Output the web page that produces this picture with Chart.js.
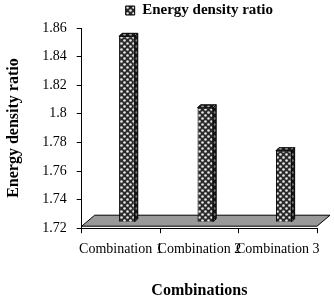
<!DOCTYPE html>
<html><head><meta charset="utf-8">
<script src="https://cdn.jsdelivr.net/npm/chart.js@4/dist/chart.umd.min.js"></script>
<style>html,body{margin:0;padding:0;background:#fff;}#wrap{width:334px;height:299px;}</style>
</head><body><div id="wrap"><canvas id="c" width="334" height="299"></canvas></div>
<script>
const categories = ['Combination 1', 'Combination 2', 'Combination 3'];
const energyDensityRatio = [1.85, 1.80, 1.77];
const yTickValues = [1.72, 1.74, 1.76, 1.78, 1.80, 1.82, 1.84, 1.86];
const seriesName = 'Energy density ratio';
const xTitle = 'Combinations';
const yTitle = 'Energy density ratio';

function makePattern() {
  const p = document.createElement('canvas');
  p.width = 6; p.height = 6;
  const g = p.getContext('2d');
  g.fillStyle = '#2a2a2a'; g.fillRect(0, 0, 6, 6);
  g.fillStyle = '#e8e8e8';
  g.beginPath(); g.arc(1.5, 1.5, 1.3, 0, Math.PI * 2); g.fill();
  g.beginPath(); g.arc(4.5, 4.5, 1.3, 0, Math.PI * 2); g.fill();
  return document.getElementById('c').getContext('2d').createPattern(p, 'repeat');
}
const pat = makePattern();
const SHIFT = 6, DEPTH = 3, FLOOR = 13;

const threeD = {
  id: 'threeD',
  beforeDatasetsDraw(chart) {
    const ctx = chart.ctx, a = chart.chartArea;
    ctx.save();
    ctx.beginPath();
    ctx.moveTo(a.left, a.bottom - 2);
    ctx.lineTo(a.right, a.bottom - 2);
    ctx.lineTo(a.right + FLOOR, a.bottom - FLOOR);
    ctx.lineTo(a.left + FLOOR, a.bottom - FLOOR);
    ctx.closePath();
    ctx.fillStyle = '#999999'; ctx.fill();
    ctx.strokeStyle = '#000'; ctx.lineWidth = 1; ctx.stroke();
    ctx.restore();
    ctx.save();
    ctx.translate(SHIFT, -SHIFT);
  },
  afterDatasetsDraw(chart) {
    const ctx = chart.ctx;
    const meta = chart.getDatasetMeta(0);
    meta.data.forEach(bar => {
      const p = bar.getProps(['x', 'y', 'base', 'width'], true);
      const l = p.x - p.width / 2, r = p.x + p.width / 2;
      ctx.beginPath();
      ctx.moveTo(r, p.y); ctx.lineTo(r + DEPTH, p.y - DEPTH);
      ctx.lineTo(r + DEPTH, p.base - DEPTH); ctx.lineTo(r, p.base); ctx.closePath();
      ctx.fillStyle = pat; ctx.fill();
      ctx.fillStyle = 'rgba(0,0,0,0.45)'; ctx.fill();
      ctx.strokeStyle = '#000'; ctx.lineWidth = 1; ctx.stroke();
      ctx.beginPath();
      ctx.moveTo(l, p.y); ctx.lineTo(r, p.y); ctx.lineTo(r + DEPTH, p.y - DEPTH);
      ctx.lineTo(l + DEPTH, p.y - DEPTH); ctx.closePath();
      ctx.fillStyle = pat; ctx.fill();
      ctx.fillStyle = 'rgba(0,0,0,0.3)'; ctx.fill();
      ctx.stroke();
    });
    ctx.restore();
  }
};

new Chart(document.getElementById('c'), {
  type: 'bar',
  data: {
    labels: categories,
    datasets: [{
      label: seriesName,
      data: energyDensityRatio,
      base: 1.72,
      backgroundColor: pat,
      borderColor: '#000',
      borderWidth: 1,
      barPercentage: 0.2,
      categoryPercentage: 1,
      clip: false
    }]
  },
  options: {
    responsive: false,
    animation: false,
    devicePixelRatio: 1,
    layout: { padding: { left: 0, right: 17, top: 0, bottom: 0 } },
    plugins: {
      legend: {
        position: 'top',
        fullSize: false,
        labels: {
          boxWidth: 9, boxHeight: 9, padding: 3, color: '#000',
          font: { family: 'Liberation Serif', size: 15, weight: 'bold' }
        }
      },
      tooltip: { enabled: false }
    },
    scales: {
      x: {
        grid: { display: true, drawOnChartArea: false, offset: true, tickLength: 5, color: '#000' },
        border: { color: '#000', width: 1 },
        ticks: { color: '#000', maxRotation: 0, minRotation: 0, autoSkip: false, padding: 8,
          font: { family: 'Liberation Serif', size: 14 } },
        title: { display: true, text: xTitle, color: '#000', padding: { top: 17, bottom: 0 },
          font: { family: 'Liberation Serif', size: 16, weight: 'bold', lineHeight: 1 } }
      },
      y: {
        min: 1.72, max: 1.86,
        afterBuildTicks(scale) { scale.ticks = yTickValues.map(v => ({ value: v })); },
        grid: { display: true, drawOnChartArea: false, tickLength: 5, color: '#000' },
        border: { color: '#000', width: 1 },
        ticks: { color: '#000', padding: 10,
          callback: v => String(+Number(v).toFixed(2)),
          font: { family: 'Liberation Serif', size: 14 } },
        title: { display: true, text: yTitle, color: '#000', padding: { top: 4, bottom: 9 },
          font: { family: 'Liberation Serif', size: 16, weight: 'bold' } }
      }
    }
  },
  plugins: [threeD]
});
</script></body></html>
